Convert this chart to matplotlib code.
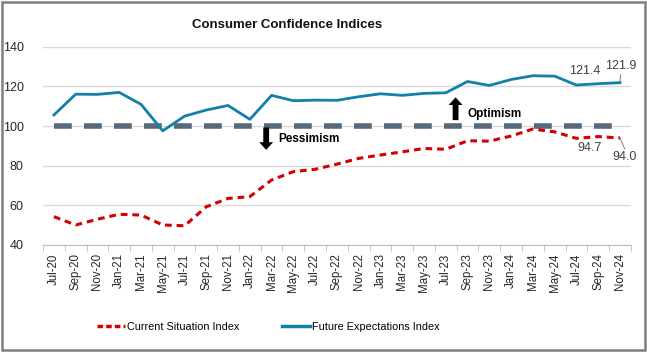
import matplotlib
matplotlib.use("Agg")
import matplotlib.pyplot as plt
from matplotlib.patches import Rectangle
from matplotlib.lines import Line2D

months = ["Jul-20", "Sep-20", "Nov-20", "Jan-21", "Mar-21", "May-21", "Jul-21", "Sep-21", "Nov-21",
          "Jan-22", "Mar-22", "May-22", "Jul-22", "Sep-22", "Nov-22", "Jan-23", "Mar-23", "May-23",
          "Jul-23", "Sep-23", "Nov-23", "Jan-24", "Mar-24", "May-24", "Jul-24", "Sep-24", "Nov-24"]
current = [54.3, 50.1, 53.0, 55.5, 55.1, 50.1, 49.7, 59.3, 63.5,
           64.4, 72.8, 77.0, 78.2, 80.8, 83.7, 85.4, 87.0, 88.7,
           88.3, 92.6, 92.4, 95.0, 98.5, 97.1, 93.8, 94.7, 94.0]
future = [105.6, 116.1, 116.0, 117.0, 111.0, 97.6, 105.0, 108.1, 110.4,
          103.4, 115.5, 112.8, 113.1, 113.0, 114.8, 116.3, 115.5, 116.5,
          116.8, 122.5, 120.5, 123.5, 125.4, 125.2, 120.7, 121.4, 121.9]
baseline = [100] * len(months)
yticks = [40, 60, 80, 100, 120, 140]

plt.rcParams['font.family'] = ['Liberation Sans', 'DejaVu Sans']

fig = plt.figure(figsize=(6.47, 3.52), dpi=100)
ax = fig.add_axes([0.0665, 0.304, 0.9085, 0.563])

x = list(range(len(months)))
red = "#d20000"
blue = "#1380a8"
gray = "#56697a"
n = len(months)

ax.plot(x, baseline, color=gray, lw=4, dashes=(3.2, 2.2), zorder=2)
ax.plot(x, future, color=blue, lw=2, zorder=3)
ax.plot(x, current, color=red, lw=2.2, dashes=(2.2, 1.6), zorder=3)

ax.set_xlim(-0.5, n - 0.5)
ax.set_ylim(40, 140)
ax.set_yticks(yticks)
ax.set_yticklabels([str(v) for v in yticks], fontsize=9, color="#262626")
ax.grid(axis='y', color="#d9d9d9", lw=1)
ax.set_axisbelow(True)

ax.set_xticks(x)
ax.set_xticklabels(months, rotation=90, fontsize=8.3, color="#262626")
ax.set_xticks([i - 0.5 for i in range(n + 1)], minor=True)
ax.tick_params(axis='x', which='major', length=0, pad=6)
ax.tick_params(axis='x', which='minor', length=4, color="#bfbfbf")
ax.tick_params(axis='y', length=0, pad=14)

for s in ['top', 'right', 'left']:
    ax.spines[s].set_visible(False)
ax.spines['bottom'].set_color("#bfbfbf")

fig.text(0.444, 0.93, "Consumer Confidence Indices", ha='center', va='center',
         fontsize=9.5, fontweight='bold', color="#111111")

# Arrows and labels
arrow_style = "simple,head_width=1.0,head_length=0.55,tail_width=0.42"
ax.annotate("", xy=(9.75, 88.0), xytext=(9.75, 99.3),
            arrowprops=dict(arrowstyle=arrow_style, color='black', lw=0, shrinkA=0, shrinkB=0))
ax.text(10.3, 93.6, "Pessimism", fontsize=8.5, fontweight='bold', va='center', ha='left')
ax.annotate("", xy=(18.45, 114.5), xytext=(18.45, 103.0),
            arrowprops=dict(arrowstyle=arrow_style, color='black', lw=0, shrinkA=0, shrinkB=0))
ax.text(19.0, 106.0, "Optimism", fontsize=8.5, fontweight='bold', va='center', ha='left')

# data labels
lab_c = "#404040"
ax.text(n - 2.6, future[-2] + 3.2, f"{future[-2]:.1f}", ha='center', va='bottom', fontsize=9, color=lab_c)
ax.text(n - 0.95, future[-1] + 5.4, f"{future[-1]:.1f}", ha='center', va='bottom', fontsize=9, color=lab_c)
ax.plot([n - 1, n - 0.97], [future[-1], future[-1] + 4.0], color="#7f7f7f", lw=0.7)
ax.text(n - 2.4, current[-2] - 6.0, f"{current[-2]:.1f}", ha='center', va='center', fontsize=9, color=lab_c)
ax.text(n - 0.8, current[-1] - 9.4, f"{current[-1]:.1f}", ha='center', va='center', fontsize=9, color=lab_c)
ax.plot([n - 1, n - 0.78], [current[-1], current[-1] - 5.5], color="#7f7f7f", lw=0.7)

# legend
h1 = Line2D([], [], color=red, lw=2.5, dashes=(1.6, 0.9))
h2 = Line2D([], [], color=blue, lw=2.5)
fig.legend([h1, h2], ["Current Situation Index", "Future Expectations Index"],
           loc='center', bbox_to_anchor=(0.415, 0.072), ncol=2, frameon=False,
           fontsize=7.8, handlelength=2.6, handletextpad=0.2, columnspacing=3.9)

fig.patches.append(Rectangle((0.003, 0.005), 0.994, 0.99, transform=fig.transFigure,
                             fill=False, edgecolor="#7f7f7f", lw=1.8))

fig.savefig("out.png", dpi=100)
